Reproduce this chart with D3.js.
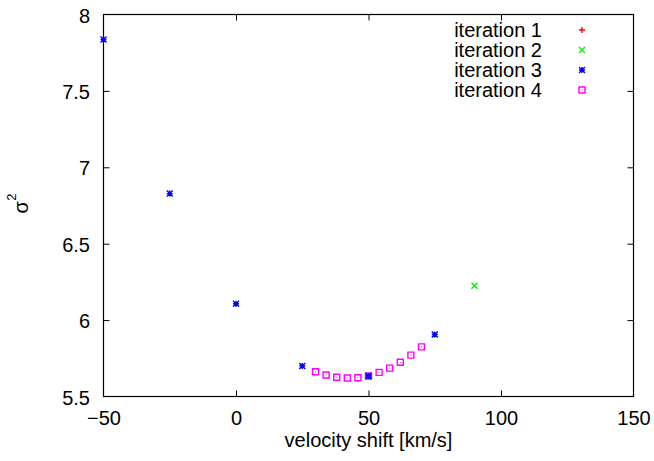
<!DOCTYPE html>
<html><head><meta charset="utf-8">
<script src="https://cdn.jsdelivr.net/npm/d3@7"></script>
<style>body{margin:0;background:#fff}svg{display:block}text{font-family:"Liberation Sans",Arial,sans-serif;fill:#000}</style>
</head><body><svg id="c" width="654" height="461"></svg>
<script>
const xTicks = [-50, 0, 50, 100, 150];
const yTicks = [5.5, 6, 6.5, 7, 7.5, 8];
const seriesNames = ["iteration 1", "iteration 2", "iteration 3", "iteration 4"];
const seriesColors = ["#ff0000", "#00ee00", "#0000ff", "#ff00ff"];
const iter1X = [];
const iter1Y = [];
const iter2X = [90];
const iter2Y = [6.225];
const iter3X = [-50, -25, 0, 25, 50, 75];
const iter3Y = [7.836, 6.828, 6.107, 5.700, 5.634, 5.906];
const iter4X = [30, 34, 38, 42, 46, 50, 54, 58, 62, 66, 70];
const iter4Y = [5.662, 5.641, 5.626, 5.621, 5.623, 5.634, 5.658, 5.686, 5.724, 5.771, 5.825];

const FS = 20;
const svg = d3.select("#c");
const L = 103.5, R = 633.5, T = 14.5, B = 396.5;
const x = d3.scaleLinear().domain([-50, 150]).range([L, R]);
const y = d3.scaleLinear().domain([5.5, 8]).range([B, T]);

// frame
svg.append("rect").attr("x", L).attr("y", T).attr("width", R - L).attr("height", B - T)
  .attr("fill", "none").attr("stroke", "#000").attr("stroke-width", 1.2);

// axes with mirror inward ticks
const tk = 6;
const gx = svg.append("g").attr("transform", `translate(0,${B})`)
  .call(d3.axisBottom(x).tickValues(xTicks).tickSize(-tk).tickFormat(d => d < 0 ? "\u2212" + Math.abs(d) : d));
const gxt = svg.append("g").attr("transform", `translate(0,${T})`)
  .call(d3.axisTop(x).tickValues(xTicks).tickSize(-tk).tickFormat(""));
const gy = svg.append("g").attr("transform", `translate(${L},0)`)
  .call(d3.axisLeft(y).tickValues(yTicks).tickSize(-tk).tickFormat(d => d));
const gyr = svg.append("g").attr("transform", `translate(${R},0)`)
  .call(d3.axisRight(y).tickValues(yTicks).tickSize(-tk).tickFormat(""));
[gx, gxt, gy, gyr].forEach(g => {
  g.select(".domain").remove();
  g.selectAll("line").attr("stroke", "#000").attr("stroke-width", 1);
  g.selectAll("text").attr("font-size", FS).attr("font-family", "Liberation Sans, Arial, sans-serif").attr("fill", "#000");
});
gx.selectAll("text").attr("y", 28.5).attr("dy", null);
gy.selectAll("text").attr("x", -13.5).attr("dy", null).attr("y", 7.5);
// hide end ticks that coincide with frame corners
gx.selectAll(".tick").filter(d => d === -50 || d === 150).select("line").remove();
gxt.selectAll(".tick").filter(d => d === -50 || d === 150).select("line").remove();
gy.selectAll(".tick").filter(d => d === 5.5 || d === 8).select("line").remove();
gyr.selectAll(".tick").filter(d => d === 5.5 || d === 8).select("line").remove();

// axis titles
svg.append("text").attr("x", (L + R) / 2).attr("y", 446.5).attr("text-anchor", "middle")
  .attr("font-size", FS).text("velocity shift [km/s]");
const yl = svg.append("text").attr("transform", "translate(28,213.5) rotate(-90)")
  .attr("text-anchor", "start").attr("font-size", FS);
yl.append("tspan").text("\u03c3");
yl.append("tspan").attr("dy", -12).attr("dx", 0.5).attr("font-size", 13).text("2");

// marker drawing
function marker(g, type, cx, cy, color) {
  const s = 3;
  const p = d3.path();
  if (type === 0 || type === 2) { p.moveTo(cx - s, cy); p.lineTo(cx + s, cy); p.moveTo(cx, cy - s); p.lineTo(cx, cy + s); }
  if (type === 1 || type === 2) { p.moveTo(cx - s, cy - s); p.lineTo(cx + s, cy + s); p.moveTo(cx - s, cy + s); p.lineTo(cx + s, cy - s); }
  if (type === 3) {
    p.rect(cx - 3, cy - 3, 6, 6);
    g.append("rect").attr("x", cx - 0.5).attr("y", cy - 0.5).attr("width", 1).attr("height", 1).attr("fill", color);
  }
  g.append("path").attr("d", p.toString()).attr("fill", "none").attr("stroke", color).attr("stroke-width", 1.4);
}

const series = [[iter1X, iter1Y], [iter2X, iter2Y], [iter3X, iter3Y], [iter4X, iter4Y]];
const pts = svg.append("g");
series.forEach((s, i) => {
  s[0].forEach((xv, j) => marker(pts, i, x(xv), y(s[1][j]), seriesColors[i]));
});
// draw iteration 3 over iteration 4 at x=50 as in reference
series[2][0].forEach((xv, j) => { if (xv === 50) marker(pts, 2, x(xv), y(series[2][1][j]), seriesColors[2]); });

// legend
const lg = svg.append("g");
seriesNames.forEach((n, i) => {
  const cy = 30 + i * 20;
  lg.append("text").attr("x", 542).attr("y", cy + 7).attr("text-anchor", "end").attr("font-size", FS).text(n);
  marker(lg, i, 582, cy, seriesColors[i]);
});
</script></body></html>
